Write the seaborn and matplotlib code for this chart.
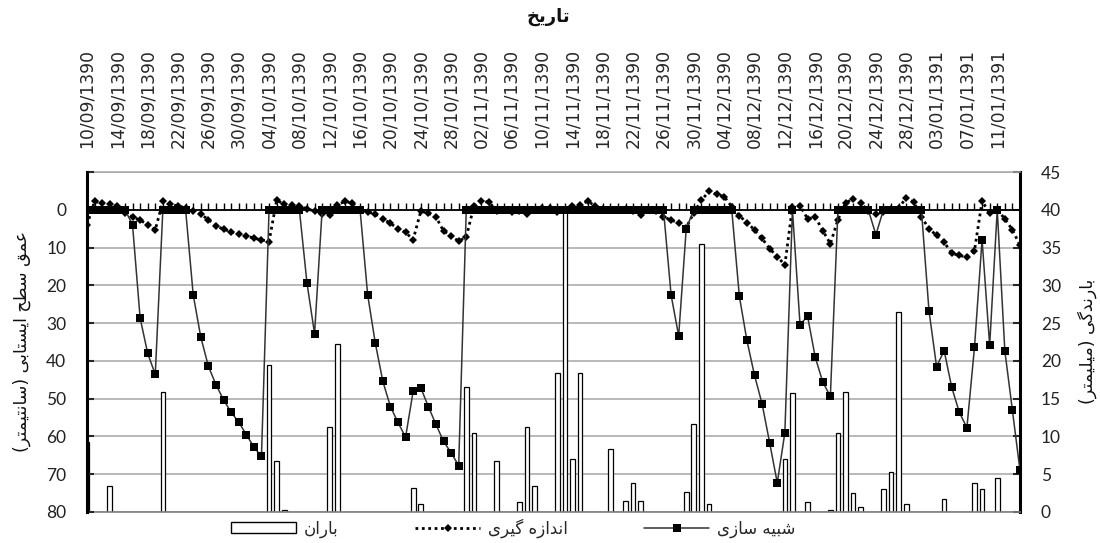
import numpy as np
import pandas as pd
import matplotlib
matplotlib.use("Agg")
import matplotlib.pyplot as plt
import seaborn as sns
from matplotlib.patches import Patch
from matplotlib.lines import Line2D
from matplotlib.ticker import MultipleLocator

# ---------------- data ----------------
n_days = 124  # 10/09/1390 .. 13/01/1391
date_labels = ["10/09/1390", "14/09/1390", "18/09/1390", "22/09/1390", "26/09/1390",
               "30/09/1390", "04/10/1390", "08/10/1390", "12/10/1390", "16/10/1390",
               "20/10/1390", "24/10/1390", "28/10/1390", "02/11/1390", "06/11/1390",
               "10/11/1390", "14/11/1390", "18/11/1390", "22/11/1390", "26/11/1390",
               "30/11/1390", "04/12/1390", "08/12/1390", "12/12/1390", "16/12/1390",
               "20/12/1390", "24/12/1390", "28/12/1390", "03/01/1391", "07/01/1391",
               "11/01/1391"]

measured = [4.0, -2.2, -1.8, -1.5, -1.0, 0.8, 1.9, 2.7, 4.0, 5.3,
            -2.2, -1.5, -1.0, -0.5, 0.3, 1.2, 2.6, 4.3, 5.1, 5.9,
            6.4, 6.9, 7.5, 8.0, 8.4, -2.5, -1.5, -1.2, -1.0, -0.2,
            0.3, 1.0, 1.5, -1.3, -2.2, -1.8, 0.0, 0.5, 1.2, 2.4,
            3.6, 5.0, 6.0, 7.9, 0.4, 0.9, 1.9, 5.6, 7.0, 8.3,
            7.2, -0.9, -2.3, -2.0, 0.2, 0.0, 0.7, 0.2, 1.2, 0.0,
            -0.5, -0.5, 0.5, 0.0, -1.0, -1.2, -2.3, -1.0, -0.2, 0.0,
            0.0, -0.3, 0.3, 1.3, 0.0, 0.3, 1.9, 2.7, 3.5, 4.7,
            0.8, -2.5, -4.9, -4.1, -3.5, -0.8, 1.6, 3.4, 5.3, 7.6,
            10.3, 12.4, 14.6, -0.7, -1.1, 2.4, 1.9, 5.5, 9.0, 2.6,
            -1.8, -2.9, -1.8, 0.4, 1.1, 0.6, -0.3, -0.4, -3.2, -2.0,
            1.9, 5.0, 6.8, 8.6, 11.5, 12.1, 12.5, 10.8, -2.3, 0.9,
            0.0, 2.4, 5.3, 9.4]

simulated = [0, 0, 0, 0, 0, 0, 3.9, 28.6, 38.0, 43.6,
             0, 0, 0, 0, 22.5, 33.7, 41.4, 46.3, 50.3, 53.6,
             56.2, 59.5, 62.8, 65.3, 0, 0, 0, 0, 0, 19.4,
             32.8, 0, 0, 0, 0, 0, 0, 22.5, 35.2, 45.4,
             52.1, 56.3, 60.2, 48.0, 47.1, 52.1, 56.8, 61.3, 64.3, 67.7,
             0, 0, 0, 0, 0, 0, 0, 0, 0, 0,
             0, 0, 0, 0, 0, 0, 0, 0, 0, 0,
             0, 0, 0, 0, 0, 0, 0, 22.5, 33.4, 5.0,
             0, 0, 0, 0, 0, 0, 22.9, 34.6, 43.8, 51.4,
             61.7, 72.3, 59.0, 0, 30.4, 28.2, 39.0, 45.6, 49.4, 0,
             0, 0, 0, 0, 6.6, 0, 0, 0, 0, 0,
             0, 26.7, 41.5, 37.3, 47.0, 53.6, 57.7, 36.4, 7.9, 35.9,
             0, 37.3, 53.1, 69.0]

rain_days = [0, 3, 10, 24, 25, 26, 32, 33, 43, 44, 50, 51, 54, 57, 58, 59, 62, 63,
             64, 65, 69, 71, 72, 73, 79, 80, 81, 82, 92, 93, 95, 98, 99, 100, 101,
             102, 105, 106, 107, 108, 113, 117, 118, 120]
rain_mm = [9.2, 3.4, 15.9, 19.5, 6.8, 0.3, 11.2, 22.2, 3.2, 1.1, 16.5, 10.5, 6.8, 1.3,
           11.3, 3.4, 18.4, 40.0, 7.0, 18.4, 8.3, 1.5, 3.9, 1.5, 2.6, 11.6, 35.5, 1.1,
           7.0, 15.7, 1.3, 0.2, 10.5, 15.9, 2.5, 0.7, 3.0, 5.25, 26.5, 1.1, 1.7, 3.9,
           3.0, 4.5]

depth_ticks = [-10, 0, 10, 20, 30, 40, 50, 60, 70, 80]
depth_labels = ["", "0", "10", "20", "30", "40", "50", "60", "70", "80"]
rain_ticks = [0, 5, 10, 15, 20, 25, 30, 35, 40, 45]

title_txt = "تاریخ"
ylabel_left = "عمق سطح ایستابی (سانتیمتر)"
ylabel_right = "بارندگی (میلیمتر)"
leg_rain = "باران"
leg_meas = "اندازه گیری"
leg_sim = "شبیه سازی"

# -------- minimal Arabic-script shaping (matplotlib has no RTL shaping) --------
_FORMS = {
    "ا": ("\uFE8D", "\uFE8E", None, None),
    "ب": ("\uFE8F", "\uFE90", "\uFE91", "\uFE92"),
    "ت": ("\uFE95", "\uFE96", "\uFE97", "\uFE98"),
    "ح": ("\uFEA1", "\uFEA2", "\uFEA3", "\uFEA4"),
    "خ": ("\uFEA5", "\uFEA6", "\uFEA7", "\uFEA8"),
    "د": ("\uFEA9", "\uFEAA", None, None),
    "ر": ("\uFEAD", "\uFEAE", None, None),
    "ز": ("\uFEAF", "\uFEB0", None, None),
    "س": ("\uFEB1", "\uFEB2", "\uFEB3", "\uFEB4"),
    "ش": ("\uFEB5", "\uFEB6", "\uFEB7", "\uFEB8"),
    "ط": ("\uFEC1", "\uFEC2", "\uFEC3", "\uFEC4"),
    "ع": ("\uFEC9", "\uFECA", "\uFECB", "\uFECC"),
    "ق": ("\uFED5", "\uFED6", "\uFED7", "\uFED8"),
    "ل": ("\uFEDD", "\uFEDE", "\uFEDF", "\uFEE0"),
    "م": ("\uFEE1", "\uFEE2", "\uFEE3", "\uFEE4"),
    "ن": ("\uFEE5", "\uFEE6", "\uFEE7", "\uFEE8"),
    "ه": ("\uFEE9", "\uFEEA", "\uFEEB", "\uFEEC"),
    "\u06CC": ("\uFBFC", "\uFBFD", "\uFBFE", "\uFBFF"),
    "\u06AF": ("\uFB92", "\uFB93", "\uFB94", "\uFB95"),
}


def rtl(text):
    chars = list(text.replace("\u064A", "\u06CC"))
    out = []
    for i, c in enumerate(chars):
        if c not in _FORMS:
            out.append(c)
            continue
        iso, fin, ini, med = _FORMS[c]
        prev = chars[i - 1] if i > 0 else None
        nxt = chars[i + 1] if i + 1 < len(chars) else None
        jp = prev in _FORMS and _FORMS[prev][2] is not None
        jn = ini is not None and nxt in _FORMS
        if jp and jn:
            out.append(med)
        elif jp:
            out.append(fin)
        elif jn:
            out.append(ini)
        else:
            out.append(iso)
    s = "".join(reversed(out))
    return s.translate(str.maketrans("()", ")("))


# ---------------- figure ----------------
sns.set_theme(style="white")
plt.rcParams["font.family"] = ["DejaVu Sans"]

fig = plt.figure(figsize=(11, 5.43), dpi=100)
ax = fig.add_axes([87 / 1100, 1 - 512 / 543, (1020 - 87) / 1100, (512 - 172) / 543])
ax2 = ax.twinx()

days = np.arange(n_days)
df = pd.DataFrame({"day": days, "measured": measured, "simulated": simulated})
rain_df = pd.DataFrame({"day": rain_days, "rain": rain_mm})

# rain bars (secondary axis, behind)
sns.barplot(data=rain_df, x="day", y="rain", ax=ax2, native_scale=True, width=0.62,
            color="white", edgecolor="black", linewidth=0.9, saturation=1)
ax2.set_ylim(0, 45)
ax2.set_yticks(rain_ticks)
ax2.yaxis.grid(True, color="#a6a6a6", linewidth=1.1)
ax2.set_axisbelow(True)
ax2.set_ylabel("")
ax2.set_xlabel("")

# lines (primary axis, on top)
ax.set_zorder(ax2.get_zorder() + 1)
ax.patch.set_visible(False)
sns.lineplot(data=df, x="day", y="measured", ax=ax, color="black", linewidth=2.0,
             linestyle=(0, (1, 1.3)), marker="D", markersize=3.6, markeredgewidth=0,
             markerfacecolor="black")
sns.lineplot(data=df, x="day", y="simulated", ax=ax, color="#333333", linewidth=1.1,
             marker="s", markersize=5.2, markeredgewidth=0, markerfacecolor="black")
ax.set_ylim(80, -10)
ax.set_xlim(0, n_days - 1)
ax.set_xlabel("")
ax.set_ylabel("")

# left axis
ax.set_yticks(depth_ticks)
ax.set_yticklabels(depth_labels)
ax.tick_params(axis="y", which="major", direction="in", length=5, width=1.5, left=True,
               labelsize=12.5, pad=15, labelcolor="#222222")
for lab in ax.get_yticklabels():
    lab.set_fontfamily(["Lato", "DejaVu Sans"])

# category axis drawn at depth 0 with daily tick marks
ax.spines["bottom"].set_position(("data", 0))
ax.spines["bottom"].set_color("black")
ax.spines["bottom"].set_linewidth(1.3)
ax.xaxis.set_major_locator(MultipleLocator(1))
ax.tick_params(axis="x", which="major", direction="in", length=5, width=1.0,
               bottom=True, labelbottom=False, top=False, labeltop=False, color="black")
ax.spines["top"].set_visible(False)
ax.spines["right"].set_visible(False)
ax.spines["left"].set_color("black")
ax.spines["left"].set_linewidth(2.2)

# right axis
ax2.tick_params(axis="y", which="major", direction="in", length=5, width=1.5, right=True,
                labelsize=12.5, pad=15, labelcolor="#222222")
for lab in ax2.get_yticklabels():
    lab.set_fontfamily(["Lato", "DejaVu Sans"])
ax2.spines["right"].set_color("black")
ax2.spines["right"].set_linewidth(2.2)
ax2.spines["left"].set_visible(False)
ax2.spines["top"].set_color("#a6a6a6")
ax2.spines["top"].set_linewidth(1.1)
ax2.spines["bottom"].set_color("#808080")
ax2.spines["bottom"].set_linewidth(1.2)

# date labels on top
sec = ax.secondary_xaxis("top")
sec.set_xticks(np.arange(0, 121, 4))
sec.set_xticklabels(date_labels, rotation=90)
sec.tick_params(axis="x", length=0, pad=17, labelsize=12.3)
for s in sec.spines.values():
    s.set_visible(False)

# texts
fig.text(548 / 1100, 1 - 17 / 543, rtl(title_txt), ha="center", va="center",
         fontsize=13, fontweight="bold", color="#111111")
fig.text(22 / 1100, 1 - 341 / 543, rtl(ylabel_left), ha="center", va="center",
         rotation=90, fontsize=12.5, color="#111111")
fig.text(1087 / 1100, 1 - 341 / 543, rtl(ylabel_right), ha="center", va="center",
         rotation=90, fontsize=12.5, color="#111111")

handles = [
    Patch(facecolor="white", edgecolor="black", linewidth=1.0),
    Line2D([], [], color="black", linewidth=2.0, linestyle=(0, (1, 1.3)), marker="D",
           markersize=3.6, markeredgewidth=0),
    Line2D([], [], color="#333333", linewidth=1.1, marker="s", markersize=5.2,
           markeredgewidth=0, markerfacecolor="black"),
]
fig.legend(handles, [rtl(leg_rain), rtl(leg_meas), rtl(leg_sim)], ncol=3,
           loc="center", bbox_to_anchor=(513 / 1100, 1 - 528 / 543), frameon=False,
           fontsize=12, handlelength=3.9, handletextpad=0.45, columnspacing=4.6,
           borderaxespad=0, borderpad=0)

fig.savefig("out.png", dpi=100)
